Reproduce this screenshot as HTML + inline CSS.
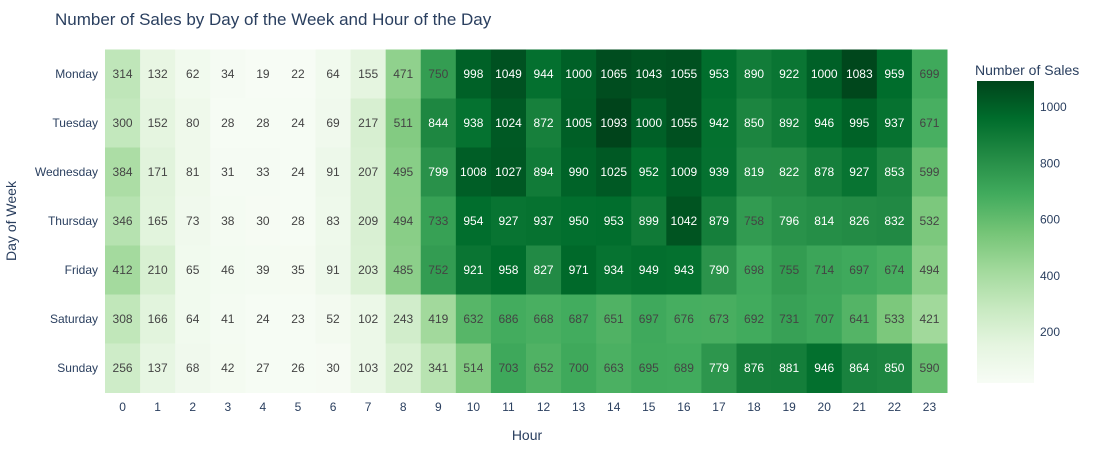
<!DOCTYPE html>
<html><head><meta charset="utf-8">
<style>
body{margin:0;background:#fff;font-family:"Liberation Sans",Arial,sans-serif;}
svg text{font-family:"Liberation Sans",Arial,sans-serif;}
</style></head>
<body>
<svg id="chart" width="1100" height="450" xmlns="http://www.w3.org/2000/svg">
<rect width="1100" height="450" fill="#fff"/>
<text x="55" y="25" font-size="17" fill="#2a3f5f">Number of Sales by Day of the Week and Hour of the Day</text>
<g id="cells"></g>
<g id="xticks"></g>
<g id="yticks"></g>
<text x="527" y="440" font-size="14" fill="#2a3f5f" text-anchor="middle">Hour</text>
<text transform="translate(16,221) rotate(-90)" font-size="14" fill="#2a3f5f" text-anchor="middle">Day of Week</text>
<text x="975" y="75" font-size="14" fill="#2a3f5f">Number of Sales</text>
<defs><linearGradient id="cg" x1="0" y1="1" x2="0" y2="0"></linearGradient></defs>
<rect id="cbar" x="977" fill="url(#cg)" width="57"/>
<g id="cticks"></g>
</svg>
<script>
const days=["Monday","Tuesday","Wednesday","Thursday","Friday","Saturday","Sunday"];
const hours=[0,1,2,3,4,5,6,7,8,9,10,11,12,13,14,15,16,17,18,19,20,21,22,23];
const monday=[314,132,62,34,19,22,64,155,471,750,998,1049,944,1000,1065,1043,1055,953,890,922,1000,1083,959,699];
const tuesday=[300,152,80,28,28,24,69,217,511,844,938,1024,872,1005,1093,1000,1055,942,850,892,946,995,937,671];
const wednesday=[384,171,81,31,33,24,91,207,495,799,1008,1027,894,990,1025,952,1009,939,819,822,878,927,853,599];
const thursday=[346,165,73,38,30,28,83,209,494,733,954,927,937,950,953,899,1042,879,758,796,814,826,832,532];
const friday=[412,210,65,46,39,35,91,203,485,752,921,958,827,971,934,949,943,790,698,755,714,697,674,494];
const saturday=[308,166,64,41,24,23,52,102,243,419,632,686,668,687,651,697,676,673,692,731,707,641,533,421];
const sunday=[256,137,68,42,27,26,30,103,202,341,514,703,652,700,663,695,689,779,876,881,946,864,850,590];
const values=[monday,tuesday,wednesday,thursday,friday,saturday,sunday];
const cbTicks=[200,400,600,800,1000];

const NS="http://www.w3.org/2000/svg";
const L=105,R=947,T=49.5,B=392.5;
const cw=(R-L)/hours.length, ch=(B-T)/days.length;
const all=values.flat();
const vmin=Math.min(...all), vmax=Math.max(...all);
const stops=[[0,[247,252,245]],[0.125,[229,245,224]],[0.25,[199,233,192]],[0.375,[161,217,155]],[0.5,[116,196,118]],[0.625,[65,171,93]],[0.75,[35,139,69]],[0.875,[0,109,44]],[1,[0,68,27]]];
function colorRGB(v){let t=(v-vmin)/(vmax-vmin);t=Math.max(0,Math.min(1,t));
 for(let i=1;i<stops.length;i++){if(t<=stops[i][0]){const a=stops[i-1],b=stops[i];const f=(t-a[0])/(b[0]-a[0]);return a[1].map((c,k)=>Math.round(c+(b[1][k]-c)*f));}}return stops[8][1];}
function xPos(i){return L+i*cw;}
function yPos(j){return T+j*ch;}
function mk(tag,attrs,parent){const e=document.createElementNS(NS,tag);for(const k in attrs)e.setAttribute(k,attrs[k]);parent.appendChild(e);return e;}
const cells=document.getElementById('cells');
values.forEach((row,j)=>row.forEach((v,i)=>{
 const c=colorRGB(v);
 const r=mk('rect',{x:xPos(i),y:yPos(j),width:cw+0.5,height:ch+0.5,fill:`rgb(${c})`},cells);
 
 
 const lum=0.299*c[0]+0.587*c[1]+0.114*c[2];
 const t=mk('text',{x:xPos(i)+cw/2,y:yPos(j)+ch/2+4,'font-size':12,'text-anchor':'middle',fill:lum<115?'#fff':'#444'},cells);
 t.textContent=v;
 
 
}));
const xt=document.getElementById('xticks');
hours.forEach((h,i)=>{const t=mk('text',{x:xPos(i)+cw/2,y:411,'font-size':12,'text-anchor':'middle',fill:'#2a3f5f'},xt);t.textContent=h;
 
 });
const yt=document.getElementById('yticks');
days.forEach((d,j)=>{const t=mk('text',{x:98,y:yPos(j)+ch/2+4,'font-size':12,'text-anchor':'end',fill:'#2a3f5f'},yt);t.textContent=d;
 
 });
// colorbar
const cbTop=81,cbBot=383;
function cbY(v){return cbBot-(v-vmin)/(vmax-vmin)*(cbBot-cbTop);}
const cb=document.getElementById('cbar');cb.setAttribute('y',cbTop);cb.setAttribute('height',cbBot-cbTop);
const g=document.getElementById('cg');
stops.forEach(s=>mk('stop',{offset:s[0],'stop-color':`rgb(${s[1]})`},g));
const ct=document.getElementById('cticks');
cbTicks.forEach(v=>{const t=mk('text',{x:1040,y:cbY(v)+4,'font-size':12,fill:'#2a3f5f'},ct);t.textContent=v;
 
 });
</script>
</body></html>
